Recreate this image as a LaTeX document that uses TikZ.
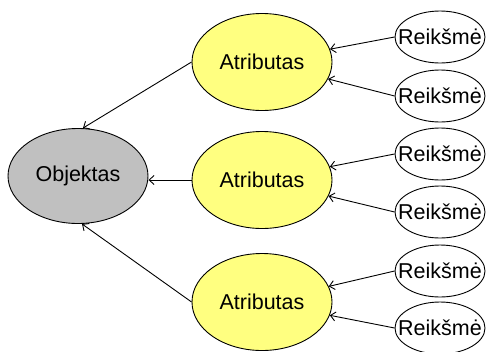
\documentclass[tikz,border=0pt]{standalone}
\usepackage{fontspec}
\setmainfont{Liberation Sans}
\usetikzlibrary{arrows.meta,shapes.geometric}
\definecolor{attrfill}{HTML}{FFFF80}
\definecolor{objfill}{HTML}{C0C0C0}
\tikzstyle{line} = [draw, line width=0.9pt, -{Straight Barb[length=5pt,width=9pt,line width=0.9pt]}]
\tikzstyle{objektas} = [ellipse, draw, line width=0.9pt, fill=objfill, inner sep=0pt, minimum width=140pt, minimum height=95pt]
\tikzstyle{atributas} = [ellipse, draw, line width=0.9pt, fill=attrfill, inner sep=0pt, minimum width=140pt, minimum height=97pt]
\tikzstyle{reiksme} = [ellipse, draw, line width=0.9pt, fill=white, inner xsep=-14pt, inner ysep=0pt, minimum width=90pt, minimum height=52pt]

\begin{document}
\begin{tikzpicture}[x=1pt,y=-1pt,every node/.style={font=\fontsize{21.5}{24}\selectfont}]
	\useasboundingbox (0,0) rectangle (486,351);
	% Object:
	\node[objektas] (obj) at (78,176) {Objektas};
	% Attributes:
	\node[atributas] (a1) at (262,62) {Atributas};
	\node[atributas] (a2) at (262,180) {Atributas};
	\node[atributas] (a3) at (262,302) {Atributas};
	% Values:
	\node[reiksme] (r1) at (440,37) {Reikšmė};
	\node[reiksme] (r2) at (440,96) {Reikšmė};
	\node[reiksme] (r3) at (440,154) {Reikšmė};
	\node[reiksme] (r4) at (440,212) {Reikšmė};
	\node[reiksme] (r5) at (440,271) {Reikšmė};
	\node[reiksme] (r6) at (440,328) {Reikšmė};
	% Attributes to object:
	\path[line] (a1.west) -- ([xshift=5pt]obj.north);
	\path[line] (a2.west) -- (obj.east |- a2.west);
	\path[line] (a3.west) -- ([xshift=4pt]obj.south);
	% Values to attributes:
	\path[line] (r1.west) -- (a1);
	\path[line] (r2.west) -- (a1);
	\path[line] (r3.west) -- (a2);
	\path[line] (r4.west) -- (a2);
	\path[line] (r5.west) -- (a3);
	\path[line] (r6.west) -- (a3);
\end{tikzpicture}
\end{document}
